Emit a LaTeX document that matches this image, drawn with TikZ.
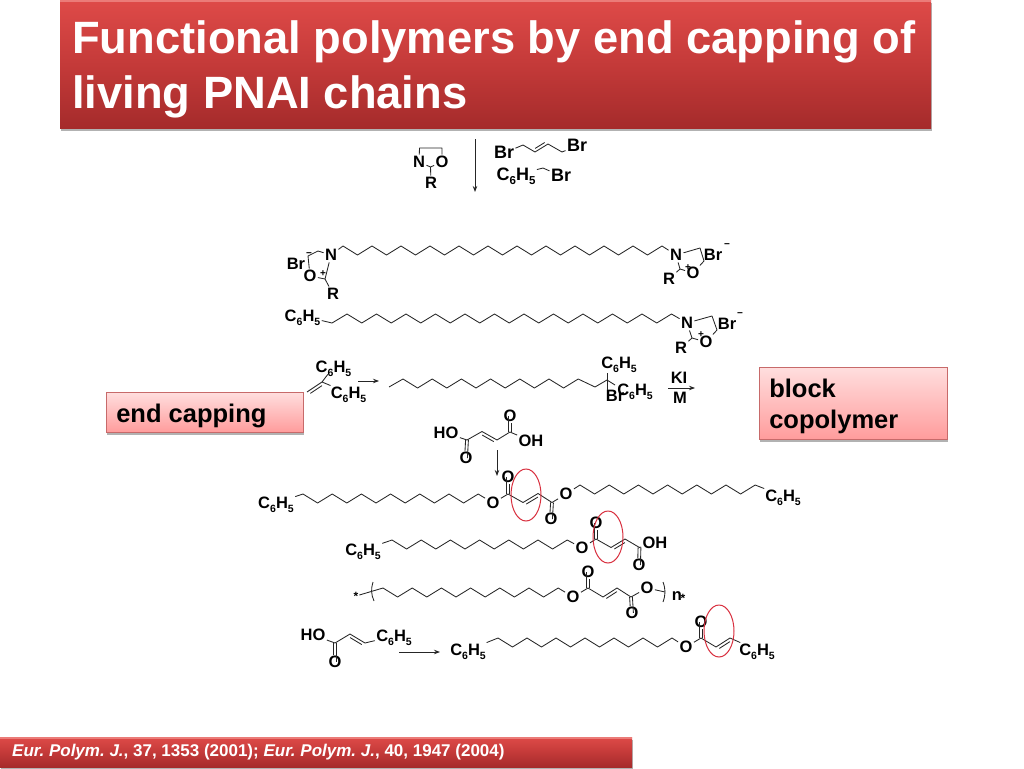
\documentclass[tikz,border=0pt]{standalone}
\usepackage{fontspec}
\setmainfont{Liberation Sans}
\usetikzlibrary{calc}
\usetikzlibrary{shapes.geometric,shadows,arrows.meta}

\definecolor{titletop}{HTML}{DE4A48}
\definecolor{titlemid}{HTML}{C43A39}
\definecolor{titlebot}{HTML}{A52B2B}
\definecolor{titleedge}{HTML}{EB7B78}
\definecolor{notetop}{HTML}{FFDEDE}
\definecolor{notebot}{HTML}{FF9C9C}
\definecolor{noteline}{HTML}{C76A6A}
\definecolor{ringred}{HTML}{D8303F}
\definecolor{bondgray}{HTML}{262626}

\newcommand{\phenyl}[1][10.5]{C\raisebox{-4pt}{\fontsize{#1}{#1}\selectfont 6}H\raisebox{-4pt}{\fontsize{#1}{#1}\selectfont 5}}
\newcommand{\tightwords}{\spaceskip=.278em\xspaceskip=.278em\relax}
\newcommand{\zigzag}[3]{\foreach \k in {1,...,#1}{-- ++(#2,9) -- ++(#2,-9)} coordinate (#3)}
\newcommand{\dbl}[2]{\draw[bond,shorten >=2pt,shorten <=2pt] ($(#1)!3pt!90:(#2)$) -- ($(#2)!3pt!-90:(#1)$);}
\newcommand{\dblo}[2]{\draw[bond,shorten >=7pt] ($(#1)!1.4pt!90:(#2)$) -- ($(#2)!1.4pt!-90:(#1)$) ($(#1)!1.4pt!-90:(#2)$) -- ($(#2)!1.4pt!90:(#1)$);}

\begin{document}
\begin{tikzpicture}[
    x=1pt,y=-1pt,
    bond/.style={draw=bondgray,line width=0.85pt,line join=bevel},
    react/.style={draw=bondgray,line width=0.85pt,-{Stealth[length=6pt,width=4.5pt]}},
    atom/.style={font=\fontsize{16.5}{16.5}\selectfont\bfseries,inner sep=0pt,outer sep=1.5pt,text height=11.9pt,text depth=0pt},
    atombig/.style={atom,font=\fontsize{18}{18}\selectfont\bfseries},
    charge/.style={font=\fontsize{10}{10}\selectfont\bfseries,inner sep=0pt},
    starmark/.style={font=\fontsize{12}{12}\selectfont\bfseries,inner sep=0pt,outer sep=1pt},
    titlebox/.style={shade,top color=titletop,bottom color=titlebot,middle color=titlemid,text=white,
      font=\fontsize{45.3}{55}\selectfont\bfseries,align=left,inner xsep=12pt,inner ysep=0pt,anchor=north west,
      drop shadow={shadow xshift=1pt,shadow yshift=-3pt,opacity=0.3,fill=black}},
    notebox/.style={shade,top color=notetop,bottom color=notebot,draw=noteline,line width=0.6pt,
      font=\fontsize{25.5}{30.7}\selectfont\bfseries,align=left,inner xsep=10pt,inner ysep=0pt,anchor=north west,
      drop shadow={shadow xshift=1pt,shadow yshift=-3pt,opacity=0.3,fill=black}},
    ringmark/.style={ellipse,draw=ringred,line width=1pt,inner sep=0pt,minimum width=30pt,minimum height=52pt},
  ]
  \useasboundingbox (0,0) rectangle (1024,768);

  \node[titlebox,minimum width=871pt,minimum height=128pt,text width=847pt] (TITLE) at (60,0) {\tightwords\rule{0pt}{43pt}Functional polymers by end capping of\\living PNAI chains};
  \draw[titleedge,line width=2.5pt] ([yshift=-1.25pt]TITLE.north west) -- ([yshift=-1.25pt]TITLE.north east);
  \node[titlebox,font=\fontsize{17}{17}\selectfont\bfseries,minimum width=632pt,minimum height=30pt,text width=608pt] (CITE) at (0,737) {\tightwords\textit{Eur. Polym. J.}, 37, 1353 (2001); \textit{Eur. Polym. J.}, 40, 1947 (2004)};
  \draw[titleedge,line width=1.5pt] ([yshift=-0.75pt]CITE.north west) -- ([yshift=-0.75pt]CITE.north east);
  \node[notebox,minimum width=197pt,minimum height=40pt,text width=177pt] (CAP) at (106,392) {\tightwords\rule{0pt}{26.6pt}end capping};
  \node[notebox,minimum width=188pt,minimum height=72pt,text width=168pt] (BLOCK) at (759,367) {\tightwords\rule{0pt}{24pt}block\\copolymer};

  \node[atom] (N01) at (419,162) {N};
  \node[atom] (O01) at (442,162) {O};
  \node[atom] (R01) at (431,183) {R};
  \coordinate (T01) at (419.5,148);
  \coordinate (T02) at (442,148);
  \coordinate (C01) at (430.5,167);
  \draw[bond] (N01) -- (T01) -- (T02) -- (O01);
  \draw[bond] (N01) -- (C01) -- (O01) (C01) -- (R01);
  \coordinate (A01) at (475,139);
  \coordinate (A02) at (475,192);
  \draw[react] (A01) -- (A02);
  \node[atombig] (BR01) at (504,153) {Br};
  \node[atombig] (BR02) at (577,146) {Br};
  \coordinate (B01) at (523,145);
  \coordinate (B02) at (535,152);
  \coordinate (B03) at (548,144);
  \coordinate (B04) at (562,152);
  \draw[bond] (BR01) -- (B01) -- (B02) -- (B03) -- (B04) -- (BR02);
  \dbl{B02}{B03}
  \node[atombig] (PH01) at (516,175) {\phenyl[11.5]};
  \node[atombig] (BR03) at (561,176) {Br};
  \coordinate (B05) at (543,168);
  \draw[bond] (PH01) -- (B05) -- (BR03);

  \node[atom] (N11) at (331,255) {N};
  \node[atom] (O11) at (310,276) {O};
  \node[atom] (BR11) at (296,264) {Br};
  \node[atom] (R11) at (333,294) {R};
  \node[charge] (PL11) at (323,274) {+};
  \node[charge] (MI11) at (309,255) {−};
  \coordinate (C11) at (318,251);
  \coordinate (C12) at (308,256);
  \coordinate (C13) at (325,279);
  \coordinate (Z11) at (343,246);
  \draw[bond] (N11) -- (C11) -- (C12) -- (O11);
  \draw[bond] (N11) -- (C13) -- (O11) (C13) -- (R11);
  \node[atom] (N12) at (676,255) {N};
  \node[atom] (O12) at (693,273) {O};
  \node[atom] (BR12) at (713,255) {Br};
  \node[atom] (R12) at (669,279) {R};
  \node[charge] (PL12) at (688,268) {+};
  \node[charge] (MI12) at (727,246) {−};
  \coordinate (C14) at (700,248);
  \coordinate (C15) at (704,261);
  \coordinate (C16) at (680,269);
  \draw[bond] (N12) -- (C14) -- (C15) -- (O12);
  \draw[bond] (N12) -- (C16) -- (O12) (C16) -- (R12);
  \draw[bond] (N11) -- (Z11) \zigzag{11}{14.5}{Z12} -- (N12);

  \node[atom] (PH21) at (302.5,316) {\phenyl};
  \node[atom] (N21) at (687,323) {N};
  \node[atom] (O21) at (706,342) {O};
  \node[atom] (BR21) at (727,324) {Br};
  \node[atom] (R21) at (681,348) {R};
  \node[charge] (PL21) at (701,335) {+};
  \node[charge] (MI21) at (740,315) {−};
  \coordinate (V21) at (332,323);
  \coordinate (Z21) at (347,314);
  \coordinate (C21) at (712,316);
  \coordinate (C22) at (717,330);
  \coordinate (C23) at (692,338);
  \draw[bond] (PH21) -- (V21) -- (Z21) \zigzag{11}{14.75}{Z22} -- (N21);
  \draw[bond] (N21) -- (C21) -- (C22) -- (O21);
  \draw[bond] (N21) -- (C23) -- (O21) (C23) -- (R21);

  \node[atom] (PH31) at (333.5,367) {\phenyl};
  \node[atom] (PH32) at (348.5,393) {\phenyl};
  \coordinate (C31) at (322,382);
  \coordinate (C32) at (307,392);
  \draw[bond] (PH31) -- (C31) -- (PH32) (C31) -- (C32);
  \dbl{C31}{C32}
  \coordinate (A31) at (358,381);
  \coordinate (A32) at (379,381);
  \draw[react] (A31) -- (A32);
  \coordinate (V31) at (389,387);
  \coordinate (Z31) at (403,379);
  \coordinate (V32) at (595,387);
  \coordinate (Q31) at (607,380);
  \coordinate (V33) at (615,385);
  \node[atom] (PH33) at (619,363) {\phenyl};
  \node[atom] (PH34) at (635,390) {\phenyl};
  \node[atom] (BR31) at (615,396) {Br};
  \draw[bond] (V31) -- (Z31) \zigzag{6}{14.6}{Z32} -- (V32) -- (Q31) -- (V33);
  \coordinate (Q32) at (607,373);
  \coordinate (Q33) at (607,390);
  \draw[bond] (Q32) -- (Q33);
  \node[atom] (KI) at (679,378) {KI};
  \node[atom] (M) at (680,398) {M};
  \coordinate (A33) at (668,388);
  \coordinate (A34) at (695,388);
  \draw[react] (A33) -- (A34);

  \node[atom] (HO41) at (446,433) {HO};
  \node[atom] (O41) at (510,416) {O};
  \node[atom] (OH41) at (531,441) {OH};
  \node[atom] (O42) at (466,458) {O};
  \draw[bond] (HO41) -- (467,440) coordinate (C41) -- ++(15,-8.5) coordinate (C42) -- ++(15,8.5) coordinate (C43) -- ++(13,-8) coordinate (C44) -- (OH41);
  \dbl{C43}{C42}
  \dblo{C44}{O41}
  \dblo{C41}{O42}
  \coordinate (A41) at (497,450);
  \coordinate (A42) at (497,476);
  \draw[react] (A41) -- (A42);

  \node[atom] (PH51) at (276,503) {\phenyl};
  \node[atom] (O51) at (493,503) {O};
  \node[atom] (O52) at (508,477) {O};
  \node[atom] (O53) at (566,494) {O};
  \node[atom] (O54) at (551,519) {O};
  \node[atom] (PH52) at (783,496) {\phenyl};
  \coordinate (Z51) at (303,494);
  \coordinate (Z53) at (580,485);
  \draw[bond] (PH51) -- (Z51) \zigzag{6}{14.6}{Z52} -- (O51) -- ++(15,-9) coordinate (C51) -- ++(15,8.5) coordinate (C52) -- ++(15,-9) coordinate (C53) -- ++(14,9) coordinate (C54) -- (O53) -- (Z53) \zigzag{6}{14.6}{Z54} -- (PH52);
  \dbl{C53}{C52}
  \dblo{C51}{O52}
  \dblo{C54}{O54}

  \node[atom] (PH61) at (363,550) {\phenyl};
  \node[atom] (O61) at (582,548) {O};
  \node[atom] (O62) at (596,523) {O};
  \node[atom] (OH61) at (655,543) {OH};
  \node[atom] (O63) at (639,565) {O};
  \coordinate (Z61) at (392,540);
  \draw[bond] (PH61) -- (Z61) \zigzag{6}{14.6}{Z62} -- (O61) -- ++(14,-9) coordinate (C61) -- ++(15,8.5) coordinate (C62) -- ++(14,-8.5) coordinate (C63) -- ++(14.5,8.5) coordinate (C64) -- (OH61);
  \dbl{C63}{C62}
  \dblo{C61}{O62}
  \dblo{C64}{O63}

  \node[starmark] (ST71) at (356,596) {*};
  \node[atom] (O71) at (573,597) {O};
  \node[atom] (O72) at (588,572) {O};
  \node[atom] (O73) at (647,588) {O};
  \node[atom] (O74) at (632,613) {O};
  \node[atom] (NN71) at (677,595) {n};
  \node[starmark] (ST72) at (683,598) {*};
  \coordinate (Z71) at (383,588);
  \coordinate (E71) at (665,592);
  \draw[bond] (ST71) -- (Z71) \zigzag{6}{14.6}{Z72} -- (O71) -- ++(15,-9) coordinate (C71) -- ++(15,9) coordinate (C72) -- ++(14,-9) coordinate (C73) -- ++(14,9) coordinate (C74) -- (O73) -- (E71);
  \dbl{C73}{C72}
  \dblo{C71}{O72}
  \dblo{C74}{O74}
  \coordinate (L71) at (373,582);
  \coordinate (L72) at (374,601);
  \coordinate (L73) at (663,582);
  \coordinate (L74) at (663,602);
  \draw[bond] (L71) to[bend right=20] (L72);
  \draw[bond] (L73) to[bend left=20] (L74);

  \node[atom] (HO81) at (313,635) {HO};
  \node[atom] (O81) at (335,662) {O};
  \node[atom] (PH81) at (394,636) {\phenyl};
  \draw[bond] (HO81) -- (335,643) coordinate (C81) -- ++(15,-9) coordinate (C82) -- ++(15,9) coordinate (C83) -- (PH81);
  \dbl{C83}{C82}
  \dblo{C81}{O81}
  \coordinate (A81) at (399,652);
  \coordinate (A82) at (440,652);
  \draw[react] (A81) -- (A82);
  \node[atom] (PH82) at (468,650) {\phenyl};
  \node[atom] (O82) at (686,647) {O};
  \node[atom] (O83) at (701,622) {O};
  \node[atom] (PH83) at (757,650) {\phenyl};
  \coordinate (Z81) at (498,638);
  \draw[bond] (PH82) -- (Z81) \zigzag{6}{14.5}{Z82} -- (O82) -- ++(15,-9) coordinate (C84) -- ++(15,9) coordinate (C85) -- ++(14,-9) coordinate (C86) -- (PH83);
  \dbl{C86}{C85}
  \dblo{C84}{O83}

  \node[ringmark] (RING1) at (526,495) {};
  \node[ringmark] (RING2) at (608,537) {};
  \node[ringmark] (RING3) at (719,631) {};

\end{tikzpicture}
\end{document}
